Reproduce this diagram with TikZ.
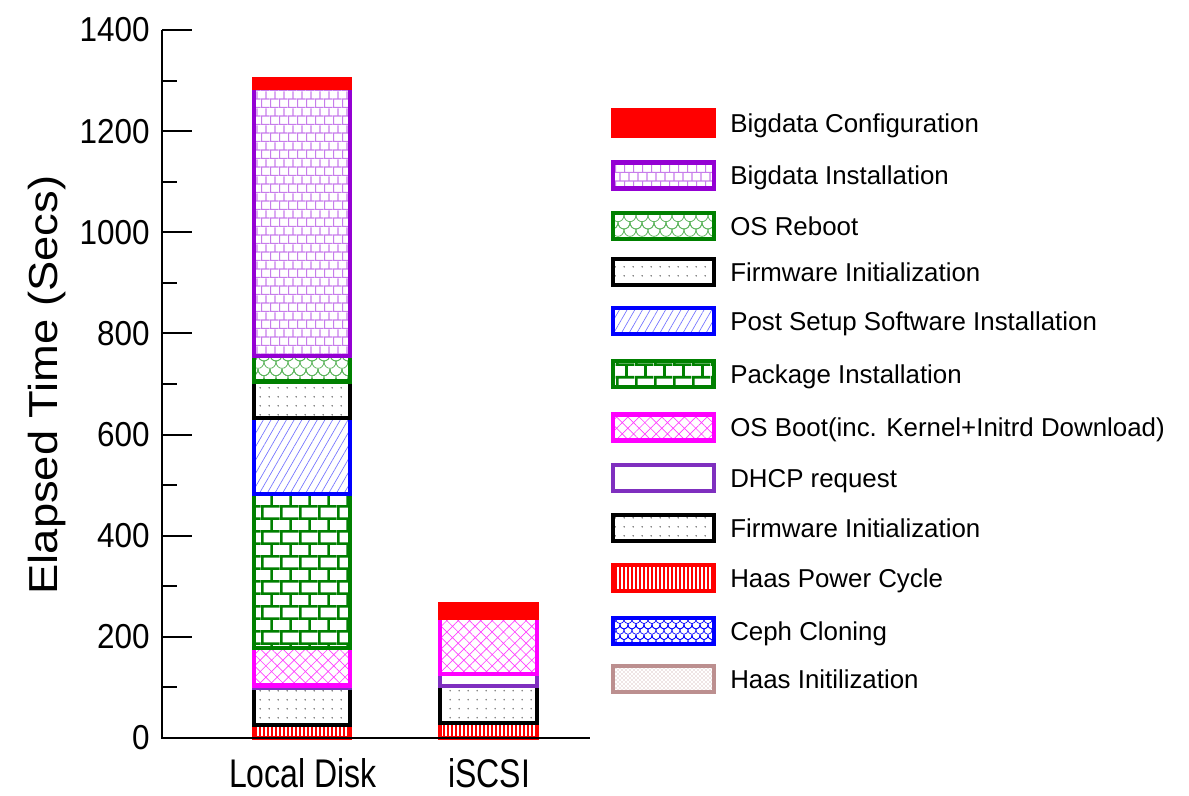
\documentclass[tikz,border=0pt]{standalone}
\usepackage{fontspec}
\setmainfont{Liberation Sans}
\usetikzlibrary{patterns,patterns.meta}

% colours of the stacked phases
\definecolor{bdpurple}{HTML}{9400D3}
\definecolor{bdlight}{HTML}{C77DEB}
\definecolor{grn}{HTML}{008000}
\definecolor{grlight}{HTML}{5FB55F}
\definecolor{bllight}{HTML}{7373FF}
\definecolor{mag}{HTML}{FF00FF}
\definecolor{dhcpc}{HTML}{7F2FBF}
\definecolor{rosy}{HTML}{BC8F8F}
\definecolor{dotgray}{HTML}{606060}

% large bricks (package installation)
\pgfdeclarepatternformonly{bigbricks}{\pgfpointorigin}{\pgfpoint{14pt}{19pt}}{\pgfpoint{14pt}{19pt}}{%
  \pgfsetlinewidth{2pt}%
  \pgfpathmoveto{\pgfpoint{0pt}{1pt}}\pgfpathlineto{\pgfpoint{14pt}{1pt}}%
  \pgfpathmoveto{\pgfpoint{0pt}{10.5pt}}\pgfpathlineto{\pgfpoint{14pt}{10.5pt}}%
  \pgfpathmoveto{\pgfpoint{1pt}{1pt}}\pgfpathlineto{\pgfpoint{1pt}{10.5pt}}%
  \pgfpathmoveto{\pgfpoint{8pt}{10.5pt}}\pgfpathlineto{\pgfpoint{8pt}{19pt}}%
  \pgfusepath{stroke}}

% small bricks (bigdata installation)
\pgfdeclarepatternformonly{smallbricks}{\pgfpointorigin}{\pgfpoint{7pt}{13pt}}{\pgfpoint{7pt}{13pt}}{%
  \pgfsetlinewidth{0.9pt}%
  \pgfpathmoveto{\pgfpoint{0pt}{0.5pt}}\pgfpathlineto{\pgfpoint{7pt}{0.5pt}}%
  \pgfpathmoveto{\pgfpoint{0pt}{7pt}}\pgfpathlineto{\pgfpoint{7pt}{7pt}}%
  \pgfpathmoveto{\pgfpoint{0.5pt}{0.5pt}}\pgfpathlineto{\pgfpoint{0.5pt}{7pt}}%
  \pgfpathmoveto{\pgfpoint{4pt}{7pt}}\pgfpathlineto{\pgfpoint{4pt}{13pt}}%
  \pgfusepath{stroke}}

% fine overlapping scale arcs (Ceph cloning)
\pgfdeclarepatternformonly{scales}{\pgfpoint{-3pt}{-1pt}}{\pgfpoint{9pt}{10pt}}{\pgfpoint{6pt}{8pt}}{%
  \pgfsetlinewidth{0.5pt}%
  \pgfpathmoveto{\pgfpoint{0pt}{5pt}}\pgfpathcurveto{\pgfpoint{0pt}{0pt}}{\pgfpoint{6pt}{0pt}}{\pgfpoint{6pt}{5pt}}%
  \pgfpathmoveto{\pgfpoint{-3pt}{9pt}}\pgfpathcurveto{\pgfpoint{-3pt}{4pt}}{\pgfpoint{3pt}{4pt}}{\pgfpoint{3pt}{9pt}}%
  \pgfpathmoveto{\pgfpoint{3pt}{9pt}}\pgfpathcurveto{\pgfpoint{3pt}{4pt}}{\pgfpoint{9pt}{4pt}}{\pgfpoint{9pt}{9pt}}%
  \pgfusepath{stroke}}

% wider scale arcs (OS reboot)
\pgfdeclarepatternformonly{bigscales}{\pgfpoint{-4.5pt}{-1pt}}{\pgfpoint{13.5pt}{14pt}}{\pgfpoint{9pt}{11pt}}{%
  \pgfsetlinewidth{0.6pt}%
  \pgfpathmoveto{\pgfpoint{0pt}{7pt}}\pgfpathcurveto{\pgfpoint{0pt}{0pt}}{\pgfpoint{9pt}{0pt}}{\pgfpoint{9pt}{7pt}}%
  \pgfpathmoveto{\pgfpoint{-4.5pt}{12.5pt}}\pgfpathcurveto{\pgfpoint{-4.5pt}{5.5pt}}{\pgfpoint{4.5pt}{5.5pt}}{\pgfpoint{4.5pt}{12.5pt}}%
  \pgfpathmoveto{\pgfpoint{4.5pt}{12.5pt}}\pgfpathcurveto{\pgfpoint{4.5pt}{5.5pt}}{\pgfpoint{13.5pt}{5.5pt}}{\pgfpoint{13.5pt}{12.5pt}}%
  \pgfusepath{stroke}}

\tikzset{
  seg/.style={line width=3.2pt},
  cfg/.style={seg, draw=red, fill=red},
  bdi/.style={seg, draw=bdpurple, pattern=smallbricks, pattern color=bdlight},
  osr/.style={seg, draw=grn, pattern=bigscales, pattern color=grlight},
  fw/.style={seg, draw=black, pattern={Dots[distance=6.5pt,radius=0.6pt]}, pattern color=dotgray},
  psi/.style={seg, draw=blue, pattern={Lines[angle=60,distance=5pt,line width=0.5pt]}, pattern color=bllight},
  pkg/.style={seg, draw=grn, pattern=bigbricks, pattern color=grn},
  osb/.style={seg, draw=mag, pattern={Hatch[angle=45,distance=6pt,line width=0.5pt]}, pattern color=mag!75},
  dhcp/.style={seg, draw=dhcpc, fill=white},
  hpc/.style={seg, draw=red, pattern={Lines[angle=90,distance=3pt,line width=1.2pt]}, pattern color=red},
  ceph/.style={seg, draw=blue, pattern=scales, pattern color=blue},
  hin/.style={seg, draw=rosy, pattern=crosshatch dots, pattern color=rosy},
  axisline/.style={line width=1.5pt, black},
  ticklabel/.style={inner sep=0pt, font=\fontsize{23.6pt}{26pt}\selectfont},
  catlabel/.style={inner sep=0pt, font=\fontsize{24pt}{28pt}\selectfont},
  legtext/.style={inner sep=0pt, anchor=base west, font=\fontsize{19.4pt}{23pt}\selectfont},
}

\begin{document}
\begin{tikzpicture}[x=0.75pt,y=-0.75pt]
\useasboundingbox (0,0) rectangle (1189,796);

% axis title
\node[inner sep=0pt, rotate=90, font=\fontsize{33pt}{38pt}\selectfont] (ytitle) at (47,385) {\scalebox{1.03}[0.92]{Elapsed Time (Secs)}};

% plot area: x in pixels from the y axis, y in seconds
\begin{scope}[shift={(162,738)}, y=0.379275pt]
  % Local Disk
  \draw[hpc] (92,0) rectangle (188,25);
  \draw[fw]  (92,25) rectangle (188,99);
  \draw[dhcp] (92,99) rectangle (188,104);
  \draw[osb] (92,104) rectangle (188,178);
  \draw[pkg] (92,178) rectangle (188,482);
  \draw[psi] (92,482) rectangle (188,633);
  \draw[fw]  (92,633) rectangle (188,705);
  \draw[osr] (92,705) rectangle (188,755);
  \draw[bdi] (92,755) rectangle (188,1285);
  \draw[cfg] (92,1285) rectangle (188,1303);

  % iSCSI
  \draw[hpc] (278,0) rectangle (375,30);
  \draw[fw]  (278,30) rectangle (375,103);
  \draw[dhcp] (278,103) rectangle (375,126);
  \draw[osb] (278,126) rectangle (375,237);
  \draw[cfg] (278,237) rectangle (375,265);

  % axes with ticks
  \draw[axisline] (0,1400) -- (0,0) -- (428,0);
  \foreach \v in {0,200,...,1400} {
    \draw[axisline] (0,\v) -- (30,\v);
    \node[ticklabel, anchor=east] (tick\v) at (-12,\v) {\scalebox{1}[1.1]{\v}};
  }
  \foreach \v in {100,300,...,1300}
    \draw[axisline] (0,\v) -- (15,\v);

  % category labels
  \node[catlabel] (catlocal) at (141,-70) {\scalebox{1}[1.25]{Local Disk}};
  \node[catlabel] (catiscsi) at (327,-70) {\scalebox{1}[1.25]{iSCSI}};
\end{scope}

% legend
\foreach \sty/\yy/\txt [count=\i] in {
  cfg/123/Bigdata Configuration,
  bdi/175.5/Bigdata Installation,
  osr/226/OS Reboot,
  fw/272/Firmware Initialization,
  psi/321/Post Setup Software Installation,
  pkg/374/Package Installation,
  osb/427.5/OS Boot(inc. Kernel+Initrd Download),
  dhcp/478/DHCP request,
  fw/528/Firmware Initialization,
  hpc/578/Haas Power Cycle,
  ceph/631/Ceph Cloning,
  hin/679/Haas Initilization} {
  \draw[\sty] (613,\yy-13) rectangle (714,\yy+13);
  \node[legtext] (leg\i) at (730,\yy+9) {\txt};
}
\end{tikzpicture}
\end{document}
